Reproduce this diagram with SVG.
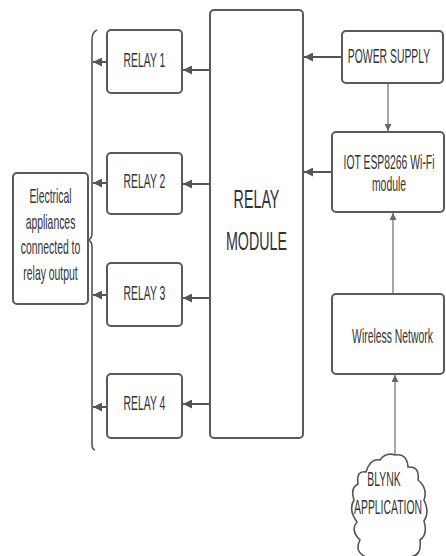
<svg xmlns="http://www.w3.org/2000/svg" width="446" height="556" viewBox="0 0 446 556">
<style>
.box{fill:#fff;stroke:#5a5a5a;stroke-width:2}
.t{font-family:"Liberation Sans",Arial,sans-serif;font-size:20px;fill:#333;text-anchor:middle}
.big{font-size:26px}
.c{fill:none;stroke:#555;stroke-width:2}
.v{fill:none;stroke:#777;stroke-width:1.3}
</style>
<defs>
<marker id="ah" viewBox="0 0 10 10" refX="10" refY="5" markerWidth="9" markerHeight="9" markerUnits="userSpaceOnUse" orient="auto">
<path d="M0,0 L10,5 L0,10 Z" fill="#555"/>
</marker>
<marker id="av" viewBox="0 0 10 10" refX="10" refY="5" markerWidth="14" markerHeight="7" markerUnits="userSpaceOnUse" orient="auto">
<path d="M0,0 L10,5 L0,10 Z" fill="#666"/>
</marker>
</defs>
<rect width="446" height="556" fill="#fff"/>
<g id="connectors">
<line class="c" x1="342" y1="57" x2="304" y2="57" marker-end="url(#ah)"/>
<line class="v" x1="388" y1="83" x2="388" y2="131" marker-end="url(#av)"/>
<line class="c" x1="332" y1="172" x2="304" y2="172" marker-end="url(#ah)"/>
<line class="v" x1="393" y1="294" x2="393" y2="213" marker-end="url(#av)"/>
<line class="v" x1="395" y1="455" x2="395" y2="375" marker-end="url(#av)"/>
<line class="c" x1="210" y1="70" x2="183" y2="70" marker-end="url(#ah)"/>
<line class="c" x1="210" y1="184" x2="183" y2="184" marker-end="url(#ah)"/>
<line class="c" x1="210" y1="298" x2="183" y2="298" marker-end="url(#ah)"/>
<line class="c" x1="210" y1="404" x2="183" y2="404" marker-end="url(#ah)"/>
<line class="c" x1="107" y1="62" x2="93" y2="62" marker-end="url(#ah)"/>
<line class="c" x1="107" y1="183" x2="93" y2="183" marker-end="url(#ah)"/>
<line class="c" x1="107" y1="295" x2="93" y2="295" marker-end="url(#ah)"/>
<line class="c" x1="107" y1="407" x2="93" y2="407" marker-end="url(#ah)"/>
</g>
<g id="brace">
<path d="M97,30 Q92,32 92,40 L92,233 Q92,239 88,240 Q92,241 92,247 L92,445 Q92,449 95,450" fill="none" stroke="#555" stroke-width="1.6"/>
</g>
<g id="relay-module">
<rect class="box" x="210" y="10" width="93" height="428" rx="4"/>
<text class="t big" transform="translate(256.5,208) scale(0.55,1)">RELAY</text>
<text class="t big" transform="translate(256.5,250) scale(0.55,1)">MODULE</text>
</g>
<g id="relay1">
<rect class="box" x="107" y="30" width="75" height="63" rx="4"/>
<text class="t" transform="translate(144.5,67) scale(0.52,1)">RELAY 1</text>
</g>
<g id="relay2">
<rect class="box" x="107" y="153" width="75" height="61" rx="4"/>
<text class="t" transform="translate(144.5,188) scale(0.52,1)">RELAY 2</text>
</g>
<g id="relay3">
<rect class="box" x="107" y="263" width="75" height="63" rx="4"/>
<text class="t" transform="translate(144.5,300) scale(0.52,1)">RELAY 3</text>
</g>
<g id="relay4">
<rect class="box" x="107" y="374" width="75" height="64" rx="4"/>
<text class="t" transform="translate(144.5,410) scale(0.52,1)">RELAY 4</text>
</g>
<g id="appliances">
<rect class="box" x="13" y="173" width="75" height="131" rx="4"/>
<text class="t" transform="translate(50.5,203) scale(0.52,1)"><tspan x="0" y="0">Electrical</tspan><tspan x="0" y="25.7">appliances</tspan><tspan x="0" y="51.4">connected to</tspan><tspan x="0" y="77.1">relay output</tspan></text>
</g>
<g id="power-supply">
<rect class="box" x="342" y="31" width="101" height="52" rx="4"/>
<text class="t" transform="translate(389,63) scale(0.52,1)">POWER SUPPLY</text>
</g>
<g id="esp8266">
<rect class="box" x="332" y="132" width="112" height="80" rx="4"/>
<text class="t" transform="translate(389,169) scale(0.52,1)"><tspan x="0" y="0">IOT ESP8266 Wi-Fi</tspan><tspan x="0" y="22">module</tspan></text>
</g>
<g id="wireless">
<rect class="box" x="332" y="294" width="112" height="80" rx="4"/>
<text class="t" transform="translate(392.5,343) scale(0.52,1)">Wireless Network</text>
</g>
<g id="blynk">
<path d="M380,460 Q386,452 395,455 Q407,453 408,467 Q420,466 418,480 Q428,488 424,500 Q430,512 424,521 Q428,535 420,540 Q422,556 410,557 L366,557 Q354,552 360,540 Q350,530 357,522 Q348,510 354,500 Q350,488 358,484 Q356,470 366,472 Q370,458 380,460 Z" fill="#fff" stroke="#555" stroke-width="1.6"/>
<text class="t" transform="translate(384,486) scale(0.52,1)">BLYNK</text>
<text class="t" transform="translate(388,514) scale(0.52,1)">APPLICATION</text>
</g>
</svg>
